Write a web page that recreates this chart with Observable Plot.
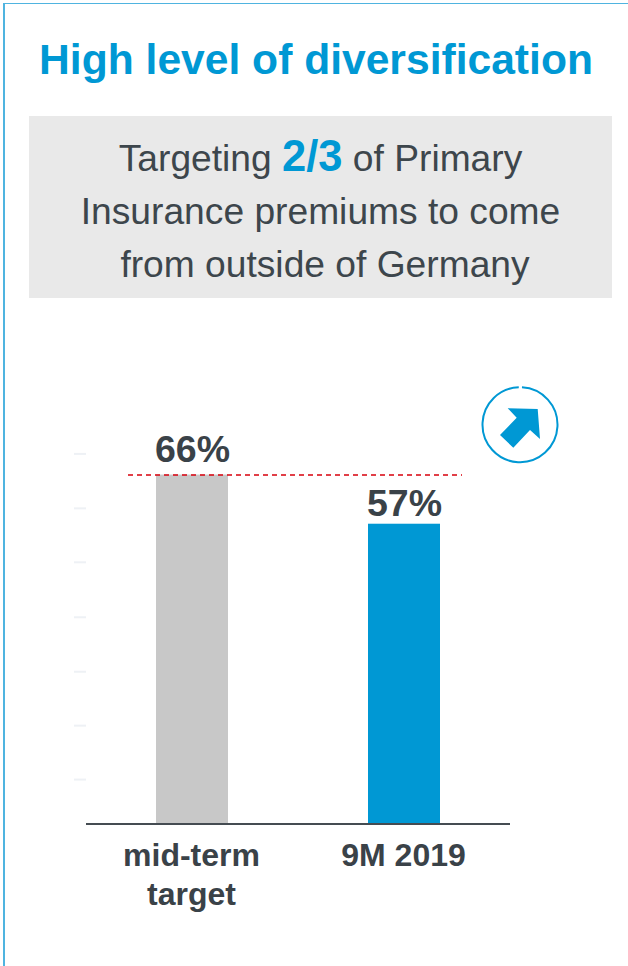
<!DOCTYPE html>
<html>
<head>
<meta charset="utf-8">
<script src="https://cdn.jsdelivr.net/npm/d3@7"></script>
<script src="https://cdn.jsdelivr.net/npm/@observablehq/plot@0.6"></script>
<style>
html,body{margin:0;padding:0;background:#fff;overflow:hidden}
body{width:628px;height:966px;position:relative;font-family:"Liberation Sans",Arial,sans-serif}
#frame{position:absolute;left:3px;top:3px;width:640px;height:980px;border-left:2px solid #4fb4e0;border-top:1.5px solid #4fb4e0}
#title{position:absolute;left:0;width:632px;top:35px;text-align:center;color:#0098d4;font-weight:700;font-size:42.6px;line-height:48px;white-space:nowrap}
#sub{position:absolute;left:29px;top:116px;width:583px;height:182px;background:#e9e9e9;color:#3d464c;text-align:center;font-size:37.2px;line-height:53px;padding-top:16px;box-sizing:border-box;white-space:nowrap}
#sub b{color:#0098d4;font-size:43.5px;line-height:40px}
#sub span{position:relative;left:4.5px}
#chart{position:absolute;left:0;top:330px}
#chart svg{display:block;overflow:visible}
#icon{position:absolute;left:0;top:0}
</style>
</head>
<body>
<div id="frame"></div>
<div id="title">High level of diversification</div>
<div id="sub">Targeting <b>2/3</b> of Primary<br>Insurance premiums to come<br><span>from outside of Germany</span></div>
<div id="chart"></div>
<svg id="icon" width="628" height="966" viewBox="0 0 628 966" style="pointer-events:none">
  <circle cx="520" cy="424.7" r="37.5" fill="none" stroke="#0098d4" stroke-width="2" stroke-dasharray="232 3.6" transform="rotate(-87 520 424.7)"></circle>
  <polygon points="507.7,408.3 537.7,409 540,439 530,430 513.3,447.7 500,435 516.7,417.7" fill="#0098d4"></polygon>
</svg>
<script>
const categories = ["mid-term\ntarget", "9M 2019"];
const shares = [66, 56.7];
const barColors = ["#c8c8c8", "#0098d4"];
const targetLevel = [66];
const ghostTicks = [8.4, 18.6, 28.8, 39.1, 49.5, 59.7, 70];

const table = categories.map((c, i) => ({category: c, share: shares[i], color: barColors[i]}));
const valueLabel = (dy, rows) => Plot.text(rows, {
  x: "category", y: "share", text: d => Math.round(d.share) + "%",
  fontSize: 37.5, fontWeight: 700, fill: "#3a4248", lineAnchor: "bottom", dy
});

const chart = Plot.plot({
  width: 628,
  height: 636,
  marginTop: 123.4,
  marginBottom: 142.5,
  marginLeft: 86,
  marginRight: 118,
  style: {fontFamily: '"Liberation Sans", Arial, sans-serif', background: "transparent"},
  x: {domain: categories, paddingInner: 0.66, paddingOuter: 0.33, label: null},
  y: {domain: [0, 70], label: null},
  marks: [
    Plot.axisY({ticks: ghostTicks, tickSize: 12, tickFormat: () => "", stroke: "#eef1f5", strokeWidth: 2, label: null}),
    Plot.barY(table, {x: "category", y: "share", fill: "color"}),
    Plot.ruleY([0], {stroke: "#454c52", strokeWidth: 2}),
    Plot.ruleY(targetLevel, {stroke: "#d8000c", strokeWidth: 1.5, strokeDasharray: "5 4", insetLeft: 42, insetRight: 48}),
    valueLabel(-13, table.slice(0, 1)),
    valueLabel(-8, table.slice(1)),
    Plot.axisX({tickSize: 0, tickPadding: 14, dx: -1, fontSize: 32, fontWeight: 700, fill: "#3a4248", color: "#3a4248", lineHeight: 1.22, lineAnchor: "top", label: null})
  ]
});
document.getElementById("chart").appendChild(chart);
</script>
</body>
</html>
